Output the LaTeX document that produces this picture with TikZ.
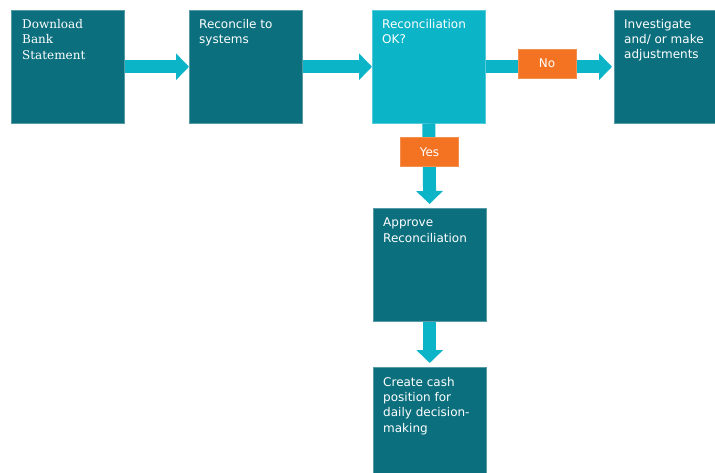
\documentclass[tikz,border=0pt]{standalone}
\usepackage{fontspec}
\setmainfont{DejaVu Sans}
\newfontfamily\serifbox{DejaVu Serif}
\usetikzlibrary{arrows.meta}
\definecolor{darkteal}{RGB}{12,111,125}
\definecolor{lightteal}{RGB}{12,180,200}
\definecolor{orangelbl}{RGB}{243,115,35}
\tikzset{
  procbox/.style={rectangle, fill=darkteal, draw=darkteal!70!white, line width=0.5pt, minimum width=113pt, minimum height=113pt, inner sep=0pt, anchor=north west},
  decbox/.style={procbox, fill=lightteal, draw=lightteal!70!white},
  boxtext/.style={anchor=north west, inner sep=0pt, align=left, text=white, font=\fontsize{12}{15.3}\selectfont},
  flowarrow/.style={draw=lightteal, line width=13pt, -{Triangle[width=26pt,length=13pt]}},
  lbl/.style={rectangle, fill=orangelbl, draw=orangelbl!80!white, line width=0.4pt, minimum width=58pt, minimum height=29pt, inner sep=0pt, text=white, font=\fontsize{12}{13}\selectfont}
}
\begin{document}
\begin{tikzpicture}[x=1pt,y=-1pt]
\useasboundingbox (0,0) rectangle (715,473);
\fill[white] (0,0) rectangle (715,473);
\node[procbox] (b1) at (11,10) {};
\node[procbox] (b2) at (189,10) {};
\node[decbox]  (b3) at (372,10) {};
\node[procbox] (b4) at (614,10) {};
\node[procbox] (b5) at (373,208) {};
\node[procbox] (b6) at (373,367) {};
\node[boxtext, font=\serifbox\fontsize{12}{15.5}\selectfont] (t1) at ([xshift=11pt,yshift=-9pt]b1.north west) {Download\\Bank\\Statement};
\node[boxtext] (t2) at ([xshift=10pt,yshift=-9pt]b2.north west) {Reconcile to\\systems};
\node[boxtext] (t3) at ([xshift=10pt,yshift=-9pt]b3.north west) {Reconciliation\\OK?};
\node[boxtext] (t4) at ([xshift=10pt,yshift=-9pt]b4.north west) {Investigate\\and/ or make\\adjustments};
\node[boxtext] (t5) at ([xshift=10pt,yshift=-10pt]b5.north west) {Approve\\Reconciliation};
\node[boxtext] (t6) at ([xshift=10pt,yshift=-10pt]b6.north west) {Create cash\\position for\\daily decision-\\making};
\draw[flowarrow] (b1.east) -- (b2.west);
\draw[flowarrow] (b2.east) -- (b3.west);
\draw[flowarrow, shorten >=2pt] (b3.east) -- (b4.west);
\draw[flowarrow, shorten >=4pt] (b3.south) -- (b5.north);
\draw[flowarrow, shorten >=4pt] (b5.south) -- (b6.north);
\node[lbl] (no) at (547,63.5) {No};
\node[lbl] (yes) at (429.5,152) {Yes};
\end{tikzpicture}
\end{document}
